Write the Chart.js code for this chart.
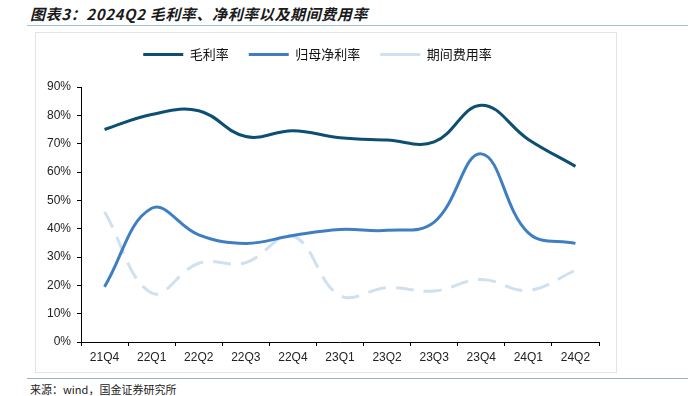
<!DOCTYPE html>
<html>
<head>
<meta charset="utf-8">
<script src="https://cdn.jsdelivr.net/npm/chart.js@4"></script>
<style>
  body { margin: 0; width: 694px; height: 396px; background: #fff; position: relative; overflow: hidden; font-family: "Noto Sans CJK SC", sans-serif; }
  #title { position: absolute; left: 30px; top: 3px; font-size: 15px; font-weight: bold; font-style: italic; color: #1a1a1a; letter-spacing: 0.6px; }
  #topLine { position: absolute; left: 27px; top: 25px; width: 661px; height: 0; border-top: 1.5px solid #9fc3d6; }
  #frame { position: absolute; left: 35px; top: 32px; width: 580px; height: 339px; border: 1.5px solid #e4e4e4; }
  #wrap { position: absolute; left: 36px; top: 28px; width: 580px; height: 345px; }
  #bottomLine { position: absolute; left: 27px; top: 378px; width: 661px; height: 0; border-top: 1.5px solid #9bb5c4; }
  #source { position: absolute; left: 30px; top: 381px; font-size: 11px; color: #222; }
</style>
</head>
<body>
<div id="title">图表3：2024Q2 毛利率、净利率以及期间费用率</div>
<div id="topLine"></div>
<div id="frame"></div>
<div id="wrap"><canvas id="chart"></canvas></div>
<div id="bottomLine"></div>
<div id="source">来源：wind，国金证券研究所</div>
<script>
// 季度
const quarters = ["21Q4", "22Q1", "22Q2", "22Q3", "22Q4", "23Q1", "23Q2", "23Q3", "23Q4", "24Q1", "24Q2"];
// 毛利率 (%)
const grossMargin = [75.0, 80.3, 81.6, 72.5, 74.6, 72.1, 71.3, 70.6, 83.6, 71.5, 62.0];
// 归母净利率 (%)
const netMargin = [19.5, 47.2, 37.8, 34.8, 37.6, 39.7, 39.4, 42.3, 66.4, 38.5, 34.8];
// 期间费用率 (%)
const expenseRatio = [46.0, 17.3, 27.8, 28.0, 37.4, 16.4, 19.2, 18.0, 22.1, 18.2, 25.3];
const yTicks = [0, 10, 20, 30, 40, 50, 60, 70, 80, 90];

const ctx = document.getElementById("chart");

// 凡例の高さを固定してプロット領域の上端を合わせる
const legendHeight = {
  id: "legendHeight",
  beforeInit(chart) {
    const fit = chart.legend.fit;
    chart.legend.fit = function () {
      fit.call(this);
      this.height = 59;
    };
  },
};

new Chart(ctx, {
  type: "line",
  data: {
    labels: quarters,
    datasets: [
      {
        label: "毛利率",
        data: grossMargin,
        borderColor: "#0d4f73",
        backgroundColor: "#0d4f73",
        borderWidth: 3,
        tension: 0.4,
        pointRadius: 0,
        fill: false,
      },
      {
        label: "归母净利率",
        data: netMargin,
        borderColor: "#3f7fc1",
        backgroundColor: "#3f7fc1",
        borderWidth: 3,
        tension: 0.4,
        pointRadius: 0,
        fill: false,
      },
      {
        label: "期间费用率",
        data: expenseRatio,
        borderColor: "#cfe0f1",
        backgroundColor: "#cfe0f1",
        borderWidth: 3,
        borderDash: [18, 10],
        tension: 0.4,
        pointRadius: 0,
        fill: false,
      },
    ],
  },
  options: {
    responsive: true,
    maintainAspectRatio: false,
    animation: false,
    layout: { padding: { left: 0, right: 17, top: 0, bottom: 0 } },
    plugins: {
      legend: {
        position: "top",
        labels: {
          usePointStyle: true,
          pointStyle: "line",
          pointStyleWidth: 40,
          boxHeight: 4,
          padding: 20,
          color: "#111",
          font: { family: "Noto Sans CJK SC", size: 13 },
        },
      },
      tooltip: { enabled: false },
    },
    scales: {
      x: {
        offset: true,
        grid: {
          display: true,
          offset: true,
          drawOnChartArea: false,
          drawTicks: true,
          tickLength: 4,
          color: "#000",
        },
        border: { display: true, color: "#000", width: 1 },
        ticks: {
          color: "#222",
          padding: 4,
          maxRotation: 0,
          font: { family: "Liberation Sans", size: 12 },
        },
        afterFit(scale) { scale.height = 31; },
      },
      y: {
        min: 0,
        max: 90,
        afterBuildTicks(scale) { scale.ticks = yTicks.map(v => ({ value: v })); },
        grid: {
          display: true,
          drawOnChartArea: false,
          drawTicks: true,
          tickLength: 4,
          color: "#000",
        },
        border: { display: true, color: "#000", width: 1 },
        ticks: {
          color: "#222",
          padding: 6,
          callback: v => v + "%",
          font: { family: "Liberation Sans", size: 12 },
        },
        afterFit(scale) { scale.width = 45; },
      },
    },
  },
  plugins: [legendHeight],
});
</script>
</body>
</html>
